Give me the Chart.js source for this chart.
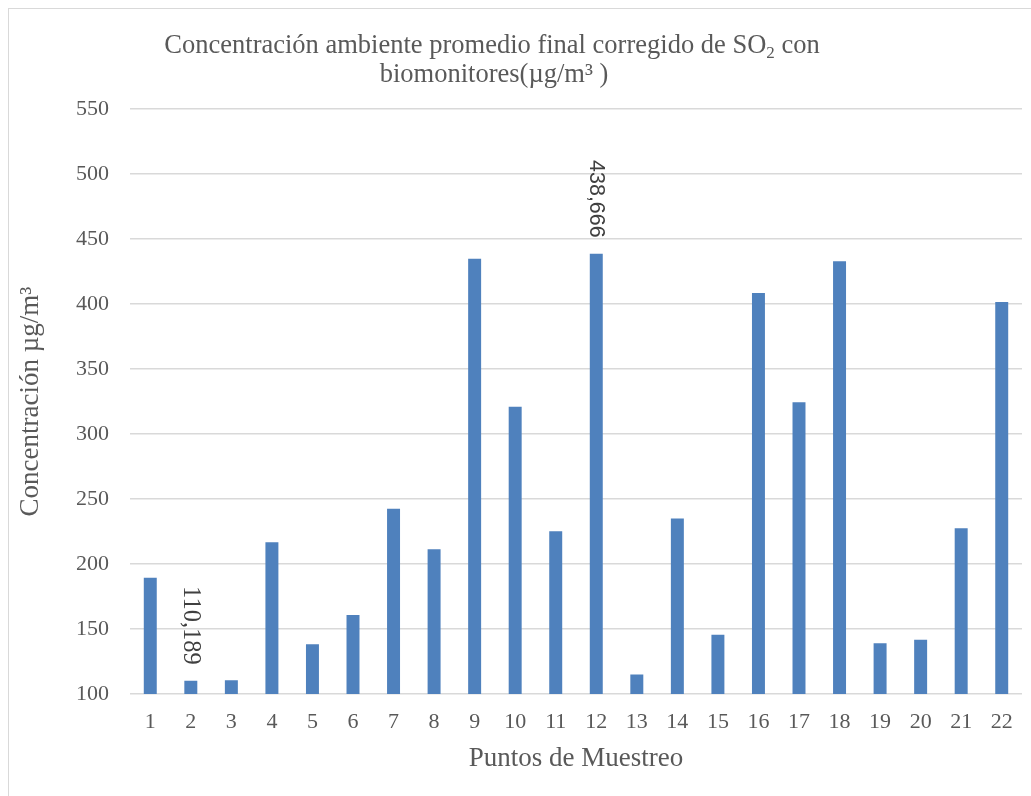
<!DOCTYPE html>
<html>
<head>
<meta charset="utf-8">
<script src="https://cdn.jsdelivr.net/npm/chart.js@4"></script>
<style>
  html, body { margin: 0; padding: 0; background: #fff; overflow: hidden; }
  #wrap { position: absolute; left: 0; top: 0; width: 1031px; height: 796px; }
</style>
</head>
<body>
<div id="wrap"><canvas id="c" width="1031" height="796"></canvas></div>
<script>
const categories = ['1','2','3','4','5','6','7','8','9','10','11','12','13','14','15','16','17','18','19','20','21','22'];
const concentrations = [189.5, 110.189, 110.5, 216.7, 138.2, 160.8, 242.5, 211.3, 434.8, 320.9, 225.2, 438.666, 115.0, 235.0, 145.5, 408.5, 324.4, 432.8, 139.1, 141.7, 227.5, 401.5];
const labeledIndices = [1, 11];
const yTicks = [100, 150, 200, 250, 300, 350, 400, 450, 500, 550];
const titleLine1a = 'Concentración ambiente promedio final corregido de SO';
const titleSub = '2';
const titleLine1b = ' con';
const titleLine2 = 'biomonitores(µg/m³ )';
const xTitle = 'Puntos de Muestreo';
const yTitle = 'Concentración µg/m³';

const SERIF = '"Liberation Serif", "Times New Roman", serif';
const TXT = '#595959';

const framePlugin = {
  id: 'frame',
  beforeDraw(chart) {
    const ctx = chart.ctx;
    ctx.save();
    ctx.fillStyle = '#fff';
    ctx.fillRect(0, 0, chart.width, chart.height);
    ctx.strokeStyle = '#d9d9d9';
    ctx.lineWidth = 1;
    ctx.strokeRect(8.5, 8.5, chart.width + 10, chart.height + 10);
    ctx.restore();
  },
  afterDraw(chart) {
    const ctx = chart.ctx;
    ctx.save();
    ctx.fillStyle = TXT;
    ctx.textBaseline = 'alphabetic';
    const big = '26.5px ' + SERIF;
    const small = '17px ' + SERIF;
    ctx.font = big;
    const wa = ctx.measureText(titleLine1a).width;
    const wb = ctx.measureText(titleLine1b).width;
    ctx.font = small;
    const ws = ctx.measureText(titleSub).width;
    const total = wa + ws + wb;
    const cx = 492;
    let x = cx - total / 2;
    const y1 = 53;
    ctx.textAlign = 'left';
    ctx.font = big;
    ctx.fillText(titleLine1a, x, y1);
    x += wa;
    ctx.font = small;
    ctx.fillText(titleSub, x, y1 + 5);
    x += ws;
    ctx.font = big;
    ctx.fillText(titleLine1b, x, y1);
    ctx.textAlign = 'center';
    ctx.fillText(titleLine2, cx + 2, y1 + 29);
    ctx.restore();
  },
  afterDatasetsDraw(chart) {
    const ctx = chart.ctx;
    const meta = chart.getDatasetMeta(0);
    labeledIndices.forEach((i, k) => {
      const bar = meta.data[i];
      const v = concentrations[i];
      const text = v.toFixed(3).replace('.', ',');
      ctx.save();
      ctx.translate(bar.x, bar.y - 16);
      ctx.rotate(Math.PI / 2);
      ctx.textAlign = 'right';
      ctx.textBaseline = 'middle';
      ctx.fillStyle = '#404040';
      ctx.font = k === 0 ? ('24.5px ' + SERIF) : ('21.5px "Liberation Sans", Arial, sans-serif');
      ctx.fillText(text, 0, 0);
      ctx.restore();
    });
  }
};

new Chart(document.getElementById('c'), {
  type: 'bar',
  data: {
    labels: categories,
    datasets: [{
      data: concentrations,
      backgroundColor: '#4F81BD',
      borderWidth: 0,
      barPercentage: 0.32,
      categoryPercentage: 1
    }]
  },
  options: {
    responsive: false,
    animation: false,
    devicePixelRatio: 1,
    layout: { padding: { top: 109, right: 9, left: 0, bottom: 0 } },
    plugins: { legend: { display: false }, tooltip: { enabled: false }, title: { display: false } },
    scales: {
      x: {
        grid: { display: false, drawTicks: false },
        border: { display: false },
        ticks: { color: TXT, font: { family: SERIF, size: 22 }, padding: 15, maxRotation: 0, autoSkip: false },
        title: { display: true, text: xTitle, color: TXT, font: { family: SERIF, size: 27 }, padding: { top: 0, bottom: 21 } },
        afterFit(scale) { scale.height = 102; }
      },
      y: {
        min: 100,
        max: 550,
        afterBuildTicks(scale) { scale.ticks = yTicks.map(v => ({ value: v })); },
        grid: { color: '#d9d9d9', lineWidth: 1.5, drawTicks: false },
        border: { display: false },
        ticks: { color: TXT, font: { family: SERIF, size: 22 }, padding: 21 },
        title: { display: true, text: yTitle, color: TXT, font: { family: SERIF, size: 27 }, padding: { top: 15, bottom: 0 } },
        afterFit(scale) { scale.width = 130; }
      }
    }
  },
  plugins: [framePlugin]
});
</script>
</body>
</html>
